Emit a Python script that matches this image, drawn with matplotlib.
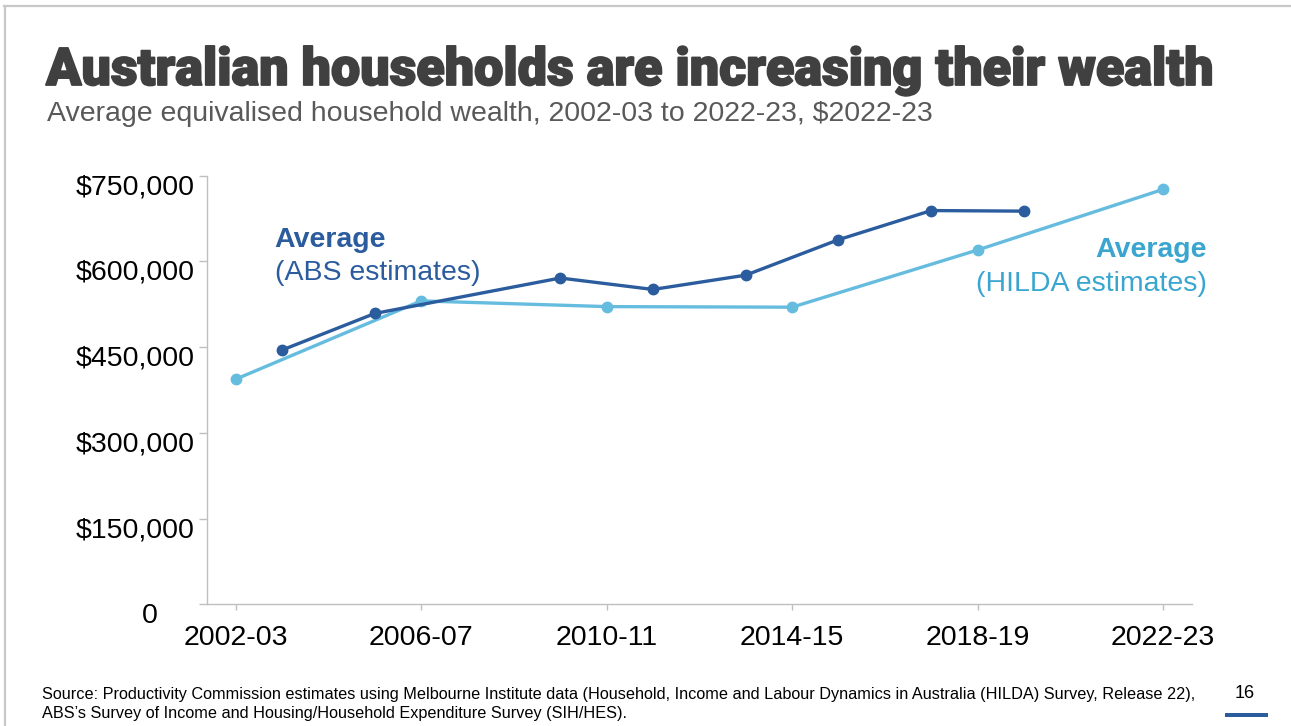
import matplotlib
matplotlib.use("Agg")
import matplotlib.pyplot as plt
import matplotlib.patheffects as pe
from matplotlib.lines import Line2D
from matplotlib.patches import Rectangle
from matplotlib.ticker import FuncFormatter
from matplotlib.transforms import ScaledTranslation

# Average equivalised household wealth ($2022-23)
abs_periods = ["2003-04", "2005-06", "2009-10", "2011-12", "2013-14", "2015-16", "2017-18", "2019-20"]
abs_wealth = [445000, 509000, 571000, 551000, 576000, 638000, 689000, 688000]

hilda_periods = ["2002-03", "2006-07", "2010-11", "2014-15", "2018-19", "2022-23"]
hilda_wealth = [394000, 531000, 521000, 520000, 620000, 726000]

x_tick_labels = ["2002-03", "2006-07", "2010-11", "2014-15", "2018-19", "2022-23"]
y_ticks = [0, 150000, 300000, 450000, 600000, 750000]

title = "Australian households are increasing their wealth"
subtitle = "Average equivalised household wealth, 2002-03 to 2022-23, $2022-23"
source = ("Source: Productivity Commission estimates using Melbourne Institute data (Household, Income and Labour "
          "Dynamics in Australia (HILDA) Survey, Release 22),\nABS\u2019s Survey of Income and Housing/Household "
          "Expenditure Survey (SIH/HES).")

DARK_BLUE = "#2B5C9E"
LIGHT_BLUE = "#66BCDF"
LIGHT_BLUE_TEXT = "#3AA6D0"
AXIS_GREY = "#BFBFBF"


def start_year(period):
    return int(period[:4])


plt.rcParams["font.family"] = ["Liberation Sans", "DejaVu Sans"]

fig = plt.figure(figsize=(12.91, 7.26), dpi=100)
ax = fig.add_axes([0.1601, 0.1674, 0.7632, 0.5906])

ax.plot([start_year(p) for p in hilda_periods], hilda_wealth, color=LIGHT_BLUE, lw=2.4,
        marker="o", ms=7.5, solid_capstyle="round", zorder=3)
ax.plot([start_year(p) for p in abs_periods], abs_wealth, color=DARK_BLUE, lw=2.4,
        marker="o", ms=7.5, solid_capstyle="round", zorder=4)

ax.set_xlim(2001.375, 2022.625)
ax.set_ylim(0, 750000)
ax.set_xticks([start_year(p) for p in x_tick_labels])
ax.set_xticklabels(x_tick_labels)
ax.set_yticks(y_ticks)
ax.yaxis.set_major_formatter(FuncFormatter(lambda v, _: "0" if v == 0 else f"${v:,.0f}"))

for side in ("top", "right"):
    ax.spines[side].set_visible(False)
for side in ("left", "bottom"):
    ax.spines[side].set_color(AXIS_GREY)
    ax.spines[side].set_linewidth(1.0)

ax.tick_params(axis="y", length=5.5, width=1.0, color=AXIS_GREY, pad=3, labelsize=20.5, labelcolor="black")
ax.tick_params(axis="x", length=4.5, width=1.0, color=AXIS_GREY, pad=10.5, labelsize=20.5, labelcolor="black")

# value labels sit slightly below their tick marks; the zero label is set further left
fig.canvas.draw()
for lab in ax.get_yticklabels():
    dx = -37 / 100 if lab.get_text() == "0" else 0
    lab.set_transform(lab.get_transform() + ScaledTranslation(dx, -8.5 / 100, fig.dpi_scale_trans))

# Series labels
ax.text(0.069, 0.834, "Average", transform=ax.transAxes, fontsize=20.5, fontweight="bold",
        color=DARK_BLUE, va="baseline", ha="left")
ax.text(0.069, 0.757, "(ABS estimates)", transform=ax.transAxes, fontsize=20.5,
        color=DARK_BLUE, va="baseline", ha="left")
ax.text(1.0155, 0.811, "Average", transform=ax.transAxes, fontsize=20.5, fontweight="bold",
        color=LIGHT_BLUE_TEXT, va="baseline", ha="right")
ax.text(1.0155, 0.731, "(HILDA estimates)", transform=ax.transAxes, fontsize=20.5,
        color=LIGHT_BLUE_TEXT, va="baseline", ha="right")

# Headings
fig.text(46 / 1291, 1 - 85 / 726, title, fontsize=37.5, fontweight="black",
         family=["Roboto", "DejaVu Sans"], color="#404040", va="baseline", ha="left",
         path_effects=[pe.withStroke(linewidth=1.3, foreground="#404040")])
fig.text(47 / 1291, 1 - 121 / 726, subtitle, fontsize=20.5, color="#595959",
         va="baseline", ha="left")

# Footer
fig.text(42 / 1291, 1 - 718 / 726, source, fontsize=11.7, color="black", va="baseline",
         ha="left", linespacing=1.3)
fig.text(1245 / 1291, 1 - 698 / 726, "16", fontsize=13, color="black", va="baseline", ha="center")
fig.patches.append(Rectangle((1225 / 1291, 1 - 717 / 726), 43 / 1291, 4 / 726,
                             transform=fig.transFigure, color=DARK_BLUE, lw=0))

# Slide frame
fig.lines.append(Line2D([4 / 1291, 1], [1 - 6 / 726, 1 - 6 / 726], transform=fig.transFigure,
                        color="#C8C8C8", lw=1.6))
fig.lines.append(Line2D([5 / 1291, 5 / 1291], [0, 1 - 6 / 726], transform=fig.transFigure,
                        color="#C8C8C8", lw=1.6))

fig.savefig("out.png", dpi=100, facecolor="white")
